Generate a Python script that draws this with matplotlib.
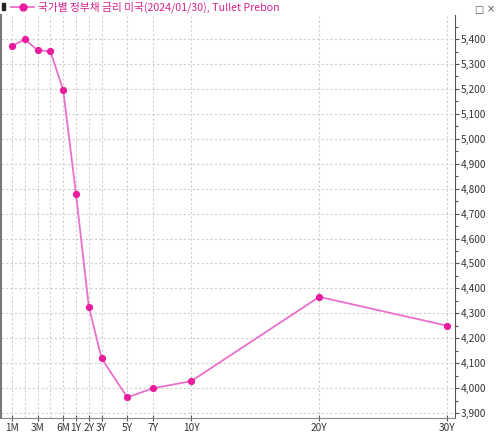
import matplotlib.pyplot as plt
from matplotlib.ticker import FixedLocator, MultipleLocator, FuncFormatter

plt.rcParams['font.family'] = ['Noto Sans CJK KR', 'DejaVu Sans']

# maturity slot on the x axis (months are one slot each, years counted in years)
maturities = ['1M', '2M', '3M', '4M', '6M', '1Y', '2Y', '3Y', '5Y', '7Y', '10Y', '20Y', '30Y']
slots = [0, 1, 2, 3, 4, 5, 6, 7, 9, 11, 14, 24, 34]
yields = [5.372, 5.399, 5.355, 5.351, 5.195, 4.778, 4.326, 4.119, 3.963, 3.999, 4.028, 4.366, 4.250]

tick_slots = [0, 2, 4, 5, 6, 7, 9, 11, 14, 24, 34]
tick_labels = ['1M', '3M', '6M', '1Y', '2Y', '3Y', '5Y', '7Y', '10Y', '20Y', '30Y']

line_col = '#e970cc'
dot_col = '#e81c9c'
grid_col = '#cfcfcf'

fig = plt.figure(figsize=(5, 4.33), dpi=100)
ax = fig.add_axes([0.002, 0.0346, 0.908, 0.9298])

ax.plot(slots, yields, color=line_col, lw=1.3, zorder=3)
ax.plot(slots, yields, 'o', color=dot_col, ms=4.2, mec=dot_col, zorder=4)

ax.set_xlim(-0.86, 34.6)
ax.set_ylim(3.880, 5.495)

ax.xaxis.set_major_locator(FixedLocator(tick_slots))
ax.xaxis.set_minor_locator(FixedLocator(slots))
ax.set_xticklabels(tick_labels)
ax.xaxis.grid(True, which='both', color=grid_col, ls=(0, (2, 2)), lw=0.8)

ax.yaxis.tick_right()
ax.yaxis.set_major_locator(MultipleLocator(0.1))
ax.yaxis.set_minor_locator(MultipleLocator(0.05))
ax.yaxis.set_major_formatter(FuncFormatter(lambda v, p: f'{v:.3f}'.replace('.', ',')))
ax.yaxis.grid(True, which='major', color=grid_col, ls=(0, (2, 2)), lw=0.8)
ax.set_axisbelow(True)

ax.tick_params(axis='y', which='major', length=3, width=0.8, pad=1, labelsize=7.3,
               labelcolor='#333333', color='#555555')
ax.tick_params(axis='y', which='minor', length=2, width=0.8, color='#555555')
ax.tick_params(axis='x', which='major', direction='inout', length=5, width=0.8, pad=1,
               labelsize=7.3, labelcolor='#333333', color='#555555')
ax.tick_params(axis='x', which='minor', length=0)

ax.spines['top'].set_visible(False)
ax.spines['left'].set_color('#777777')
ax.spines['left'].set_linewidth(1.5)
ax.spines['bottom'].set_color('#888888')
ax.spines['right'].set_color('#555555')

# legend row at the top
fig.patches.append(plt.Rectangle((0.004, 0.976), 0.006, 0.016, transform=fig.transFigure,
                                 color='#222222', figure=fig))
fig.lines.append(plt.Line2D([0.022, 0.068], [0.984, 0.984], transform=fig.transFigure,
                            color=line_col, lw=1.3, figure=fig))
fig.lines.append(plt.Line2D([0.045], [0.984], transform=fig.transFigure, marker='o',
                            color=dot_col, ms=5, figure=fig))
fig.text(0.076, 0.984, '국가별 정부채 금리 미국(2024/01/30), Tullet Prebon',
         color='#d4248f', fontsize=7.7, va='center', ha='left')
fig.text(0.958, 0.978, '□', color='#555555', fontsize=7, va='center', ha='center',
         family=['DejaVu Sans'])
fig.text(0.982, 0.978, '×', color='#555555', fontsize=7, va='center', ha='center',
         family=['DejaVu Sans'])

fig.savefig('out.png', dpi=100)
